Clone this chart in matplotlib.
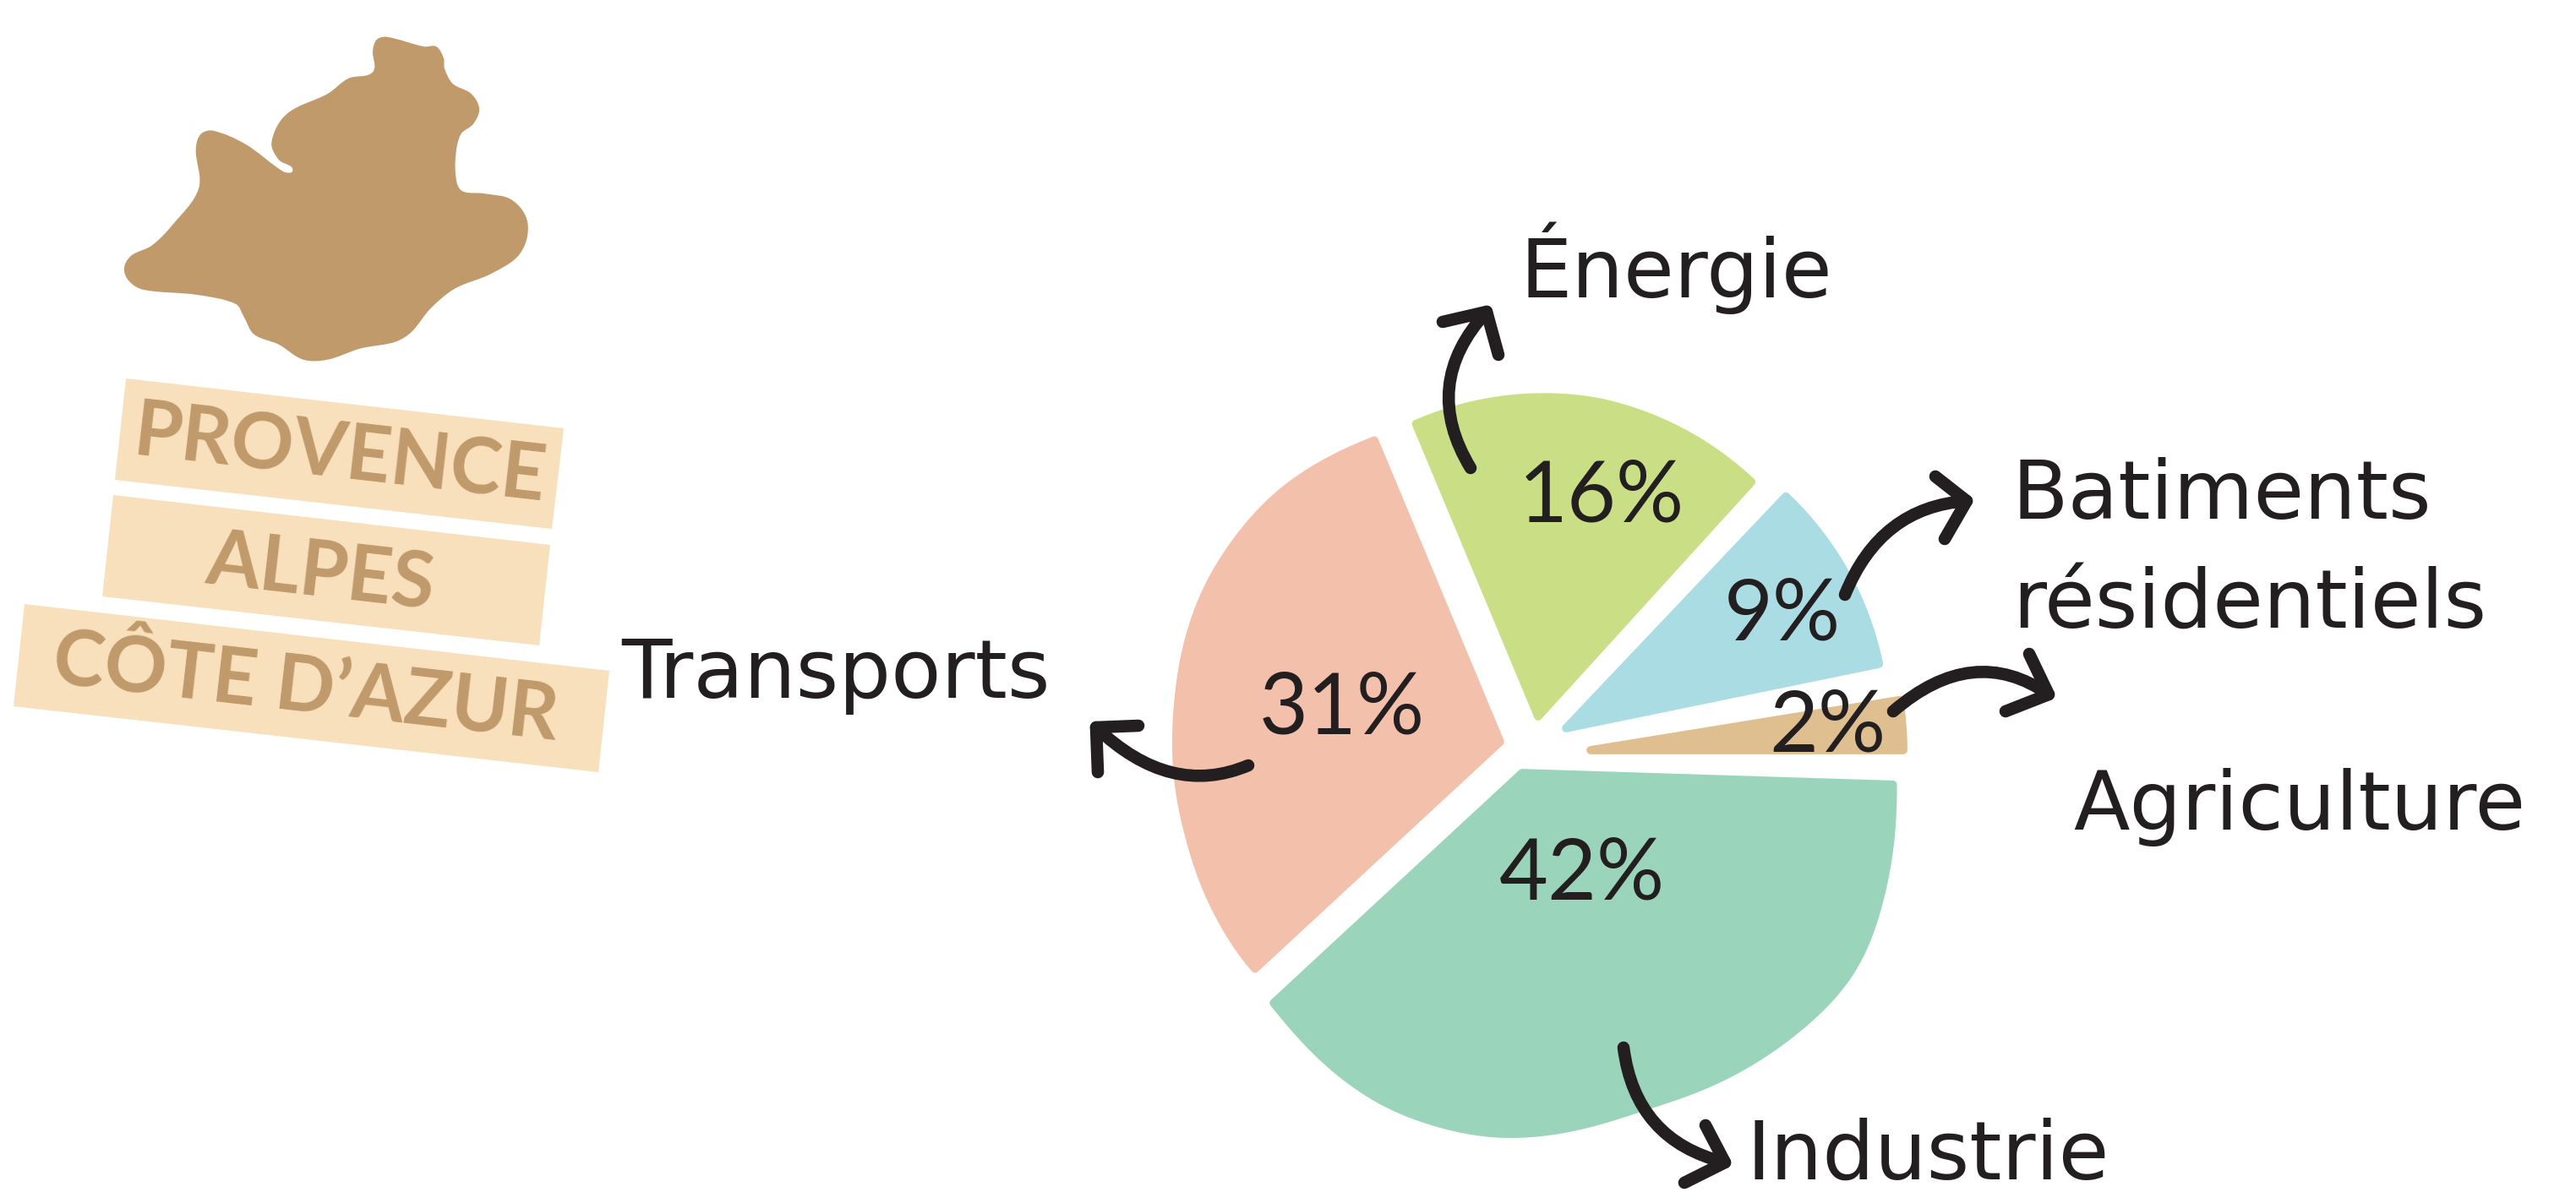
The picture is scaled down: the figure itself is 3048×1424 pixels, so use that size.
import matplotlib
matplotlib.use("Agg")
import matplotlib.pyplot as plt
from matplotlib.path import Path
from matplotlib.patches import PathPatch, Polygon
import numpy as np

W, H = 3048, 1424
INK = "#231F20"
TAN = "#C09A6B"
SAND = "#F7E0BB"

# Data: sectors, printed percentages, and drawn share of the circle
sectors = ["Agriculture", "Batiments résidentiels", "Énergie", "Transports", "Industrie"]
printed_pct = [2, 9, 16, 31, 42]
drawn_share = [3.17, 10.2, 18.2, 30.6, 37.83]
colors = ["#DFBE8F", "#A9DDE3", "#CADF85", "#F3C1AB", "#9AD4BB"]
apex_px = [(1882, 888), (1853, 862), (1820, 848), (1775, 878), (1801, 915)]
trim_deg = [(1.0, -1.2), (1.2, -0.6), (0.6, 0.0), (0.0, 0.0), (0.0, -0.8)]
# hand-drawn outline: radius at evenly read angles, from the first edge to the last edge of each slice
outline_deg = [
    [0, 10],
    [11, 47],
    [48, 80, 113],
    [113, 132, 153, 174, 197, 223],
    [223, 247, 266, 290, 311, 329, 344, 358],
]
outline_r = [
    [370, 370],
    [378, 378],
    [375, 379, 375],
    [386, 393, 391, 383, 384, 396],
    [399, 423, 429, 418, 438, 457, 446, 438],
]
pct_pos = [(2162, 861), (2109, 729), (1895, 589), (1588, 840), (1872, 1036)]

region_lines = ["PROVENCE", "ALPES", "CÔTE D’AZUR"]
region_pos = [(402, 540), (379, 680), (362, 816)]
region_boxes = [
    [(149, 448), (667, 507), (653, 626), (136, 568)],
    [(134, 586), (651, 645), (638, 764), (121, 706)],
    [(29, 715), (721, 794), (708, 914), (16, 836)],
]

label_text = ["Énergie", "Batiments", "résidentiels", "Agriculture", "Transports", "Industrie"]
label_pos = [(1798, 352), (2381, 614), (2381, 743), (2453, 982), (735, 826), (2066, 1396)]

arrow_curves = [
    [(1740, 554), (1680, 455), (1759, 369)],
    [(2183, 704), (2225, 600), (2327, 593)],
    [(2240, 842), (2335, 760), (2424, 822)],
    [(1477, 906), (1385, 945), (1297, 861)],
    [(1921, 1240), (1935, 1350), (2041, 1376)],
]
arrow_heads = [
    [(1707, 381), (1759, 369), (1773, 420)],
    [(2290, 564), (2327, 593), (2301, 638)],
    [(2401, 774), (2424, 822), (2373, 842)],
    [(1347, 859), (1297, 861), (1299, 914)],
    [(2018, 1332), (2041, 1376), (1993, 1400)],
]

map_outline = [(910, 100), (920, 78), (945, 73), (1035, 92), (1065, 92), (1083, 115), (1085, 135), (1105, 165),
               (1150, 185), (1170, 215), (1155, 245), (1125, 265), (1112, 310), (1115, 360), (1130, 378),
               (1180, 382), (1250, 395), (1288, 440), (1270, 500), (1200, 540), (1110, 570), (1050, 610),
               (1005, 655), (965, 675), (880, 688), (800, 710), (740, 710), (680, 680), (620, 660), (595, 625),
               (575, 600), (480, 582), (350, 572), (315, 555), (303, 530), (320, 505), (370, 485), (420, 445),
               (485, 372), (478, 295), (490, 265), (520, 258), (600, 285), (690, 338), (712, 340), (712, 330),
               (680, 315), (663, 280), (700, 225), (800, 185), (850, 155), (910, 142)]


def Y(y):
    return H - y


def closed_spline(pts):
    p = np.array(pts, float)
    n = len(p)
    tang = np.array([p[(i + 1) % n] - p[i - 1] for i in range(n)])
    tang = tang / np.linalg.norm(tang, axis=1, keepdims=True)
    verts = [p[0]]
    codes = [Path.MOVETO]
    for i in range(n):
        j = (i + 1) % n
        d = np.linalg.norm(p[j] - p[i]) / 3
        verts += [p[i] + tang[i] * d, p[j] - tang[j] * d, p[j]]
        codes += [Path.CURVE4] * 3
    return Path(verts, codes)


def slice_path(apex, t1, t2, degs, radii):
    th = np.linspace(t1, t2, 120)
    r = np.interp(th, degs, radii)
    k = 9
    kernel = np.hanning(2 * k + 3)[1:-1]
    kernel = kernel / kernel.sum()
    r = np.convolve(np.pad(r, k, mode="edge"), kernel, mode="valid")
    xs = apex[0] + r * np.cos(np.radians(th))
    ys = apex[1] + r * np.sin(np.radians(th))
    v = [apex] + list(zip(xs, ys)) + [apex]
    return Path(v, [Path.MOVETO] + [Path.LINETO] * (len(v) - 2) + [Path.CLOSEPOLY])


fig = plt.figure(figsize=(W / 100, H / 100), dpi=100, facecolor="white")
ax = fig.add_axes([0, 0, 1, 1])

wedges, _ = ax.pie(drawn_share, colors=colors, startangle=-1, counterclock=True, frame=True,
                   wedgeprops=dict(linewidth=7, joinstyle="round"))
for w, c, apex, trim, degs, radii in zip(wedges, colors, apex_px, trim_deg, outline_deg, outline_r):
    w.set_edgecolor(c)
    a = (apex[0], Y(apex[1]))
    w._path = slice_path(a, w.theta1 + trim[0], w.theta2 + trim[1], degs, radii)

ax.set_xlim(0, W)
ax.set_ylim(0, H)
ax.set_aspect("equal")
ax.axis("off")

# region map and name plates
mp = closed_spline([(x / 2.063, Y(y / 1.668)) for x, y in map_outline])
ax.add_patch(PathPatch(mp, fc=TAN, ec="none"))
for box, name, pos in zip(region_boxes, region_lines, region_pos):
    ax.add_patch(Polygon([(x, Y(y)) for x, y in box], closed=True, fc=SAND, ec="none"))
    ax.text(pos[0], Y(pos[1]), name, family="Lato", fontsize=66, weight="bold", color=TAN,
            rotation=-6.5, rotation_mode="anchor", ha="center", va="center")

# percentages
for pct, pos in zip(printed_pct, pct_pos):
    ax.text(pos[0], Y(pos[1]), f"{pct}%", family="Lato", fontsize=72, color=INK,
            ha="center", va="center", zorder=6)

# arrows
for crv, head in zip(arrow_curves, arrow_heads):
    v = [(x, Y(y)) for x, y in crv]
    ax.add_patch(PathPatch(Path(v, [Path.MOVETO, Path.CURVE3, Path.CURVE3]), fc="none", ec=INK,
                           lw=10.5, capstyle="round", zorder=7))
    hx, hy = zip(*[(x, Y(y)) for x, y in head])
    ax.plot(hx, hy, color=INK, lw=10.5, solid_capstyle="round", solid_joinstyle="round", zorder=7)

# sector labels
for t, pos in zip(label_text, label_pos):
    ax.text(pos[0], Y(pos[1]), t, family="DejaVu Sans", fontsize=70, color=INK, ha="left", va="baseline")

fig.savefig("out.png", dpi=100, facecolor="white")
